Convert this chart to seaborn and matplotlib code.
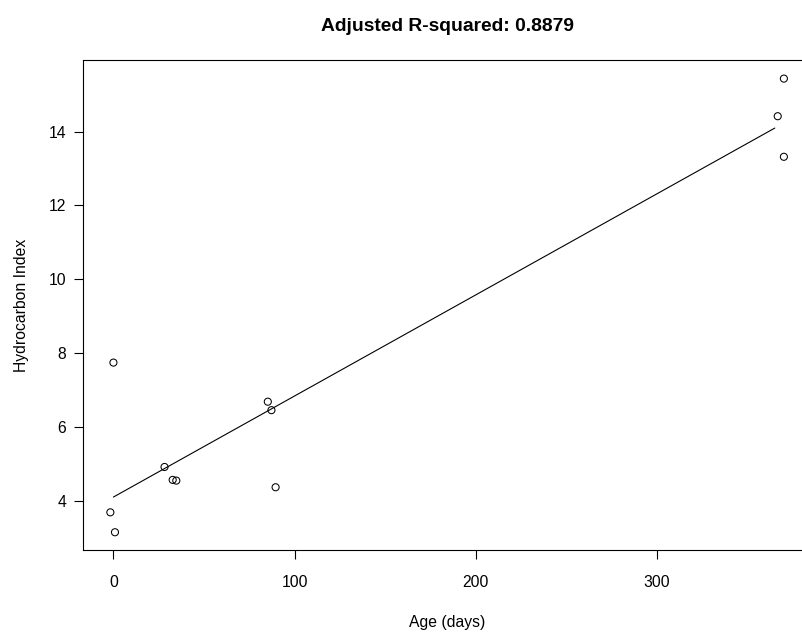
import numpy as np
import pandas as pd
import matplotlib
matplotlib.use("Agg")
import matplotlib.pyplot as plt
import seaborn as sns

# Data (jittered ages as plotted)
age_days = [-1.7, 0.85, 0.0, 28.2, 32.7, 34.7, 85.2, 87.2, 89.5, 366.6, 370.0, 370.0]
hydrocarbon_index = [3.68, 3.14, 7.74, 4.91, 4.56, 4.54, 6.68, 6.45, 4.36, 14.42, 15.44, 13.32]
fit_age_span = [0, 365]
x_ticks = [0, 100, 200, 300]
y_ticks = [4, 6, 8, 10, 12, 14]
title_text = "Adjusted R-squared: 0.8879"
x_label = "Age (days)"
y_label = "Hydrocarbon Index"

df = pd.DataFrame({"age": age_days, "hci": hydrocarbon_index})
slope, intercept = np.polyfit(df["age"], df["hci"], 1)
fit_df = pd.DataFrame({"age": fit_age_span})
fit_df["hci"] = intercept + slope * fit_df["age"]

sns.set_style("ticks")
plt.rcParams["font.family"] = ["Liberation Sans", "DejaVu Sans"]

fig = plt.figure(figsize=(8.02, 6.33), dpi=100)
ax = fig.add_axes([0.104, 0.1305, 0.907, 0.774])

sns.lineplot(data=fit_df, x="age", y="hci", ax=ax, color="black", linewidth=0.8)
sns.scatterplot(data=df, x="age", y="hci", ax=ax, marker="o", s=26,
                facecolor="none", edgecolor="black", linewidth=0.75, zorder=3)

ax.margins(x=0.04, y=0.04)
ax.set_xticks(x_ticks)
ax.set_yticks(y_ticks)
ax.set_xticklabels([str(t) for t in x_ticks])
ax.set_yticklabels([str(t) for t in y_ticks])

for sp in ax.spines.values():
    sp.set_visible(True)
    sp.set_color("black")
    sp.set_linewidth(0.8)

ax.tick_params(axis="x", length=6.5, width=0.8, color="black", labelsize=11.3, pad=11.5, labelcolor="black")
ax.tick_params(axis="y", length=6.5, width=0.8, color="black", labelsize=11.3, pad=6, labelcolor="black")

ax.set_xlabel(x_label, fontsize=11.3, labelpad=17.5, color="black")
ax.set_ylabel(y_label, fontsize=11.3, labelpad=14, color="black")
ax.set_title(title_text, fontsize=13.9, fontweight="bold", pad=21, color="black")

fig.savefig("out.png", dpi=100, facecolor="white")
